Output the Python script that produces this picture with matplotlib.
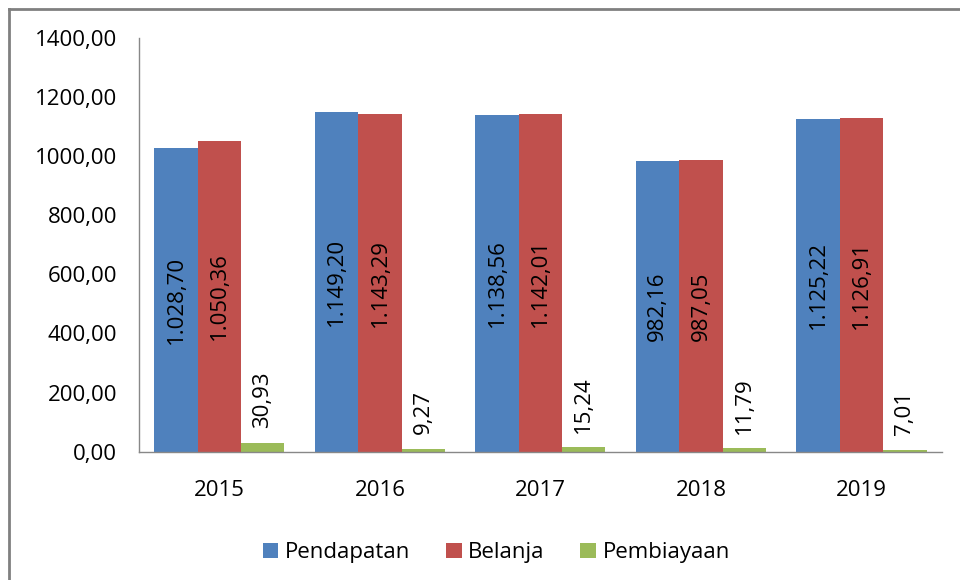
import numpy as np
import matplotlib.pyplot as plt
from matplotlib.lines import Line2D

plt.rcParams['font.family'] = ['Open Sans', 'DejaVu Sans']

years = ['2015', '2016', '2017', '2018', '2019']
pendapatan = [1028.70, 1149.20, 1138.56, 982.16, 1125.22]
belanja = [1050.36, 1143.29, 1142.01, 987.05, 1126.91]
pembiayaan = [30.93, 9.27, 15.24, 11.79, 7.01]
yticks = [0, 200, 400, 600, 800, 1000, 1200, 1400]

series = [('Pendapatan', pendapatan, '#4F81BD'),
          ('Belanja', belanja, '#C0504D'),
          ('Pembiayaan', pembiayaan, '#9BBB59')]


def fmt(v):
    # 1.028,70 style
    s = '{:,.2f}'.format(v)
    return s.replace(',', 'X').replace('.', ',').replace('X', '.')


fs = 16
fig = plt.figure(figsize=(9.6, 5.8), dpi=100)
ax = fig.add_axes([0.145, 0.221, 0.836, 0.714])

x = np.arange(len(years))
w = 0.27
for i, (name, vals, col) in enumerate(series):
    pos = x + (i - 1) * w
    ax.bar(pos, vals, w, color=col, label=name)
    for p, v in zip(pos, vals):
        if v > 100:
            ax.text(p, v / 2, fmt(v), rotation=90, ha='center', va='center',
                    fontsize=fs, color='black')
        else:
            ax.text(p, v + 50, fmt(v), rotation=90, ha='center', va='bottom',
                    fontsize=fs, color='black')

ax.set_xlim(-0.5, len(years) - 0.5)
ax.set_ylim(0, 1400)
ax.set_yticks(yticks)
ax.set_yticklabels(['{:.2f}'.format(t).replace('.', ',') for t in yticks], fontsize=fs)
ax.set_xticks(x)
ax.set_xticklabels(years, fontsize=fs)
ax.tick_params(axis='x', length=0, pad=20)
ax.tick_params(axis='y', length=0, pad=16)
for s in ['top', 'right']:
    ax.spines[s].set_visible(False)
for s in ['left', 'bottom']:
    ax.spines[s].set_color('#888888')
    ax.spines[s].set_linewidth(1)

ax.legend(loc='upper center', bbox_to_anchor=(0.445, -0.17), ncol=3, frameon=False,
          fontsize=fs, handlelength=0.7, handleheight=0.7, handletextpad=0.3,
          columnspacing=1.6)

# outer chart border (only top and left visible in the crop)
fig.add_artist(Line2D([9 / 960, 9 / 960], [0, 1 - 9 / 580], color='#808080', lw=2,
                      transform=fig.transFigure))
fig.add_artist(Line2D([9 / 960, 1], [1 - 9 / 580, 1 - 9 / 580], color='#808080', lw=2,
                      transform=fig.transFigure))

fig.savefig('out.png', dpi=100)
